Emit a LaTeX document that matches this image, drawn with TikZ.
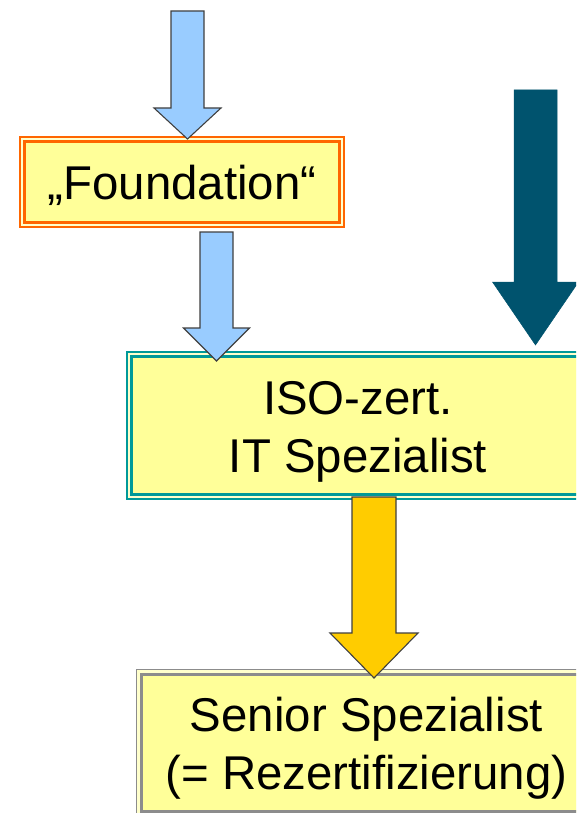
\documentclass[tikz,border=0pt]{standalone}
\usepackage{fontspec}
\setmainfont{Liberation Sans}
\usetikzlibrary{calc}
\definecolor{boxfill}{HTML}{FFFF99}
\definecolor{gapfill}{HTML}{FFFFCC}
\definecolor{orangeline}{HTML}{FF6600}
\definecolor{tealline}{HTML}{009999}
\definecolor{greyline}{HTML}{8C8C8C}
\definecolor{lightblue}{HTML}{99CCFF}
\definecolor{darkteal}{HTML}{00536E}
\definecolor{gold}{HTML}{FFCC00}
\definecolor{outline}{HTML}{404040}
\tikzset{
  boxbase/.style={rectangle, fill=boxfill, line width=3pt, outer sep=0pt, inner sep=0pt},
  outerbase/.style={rectangle, fill=gapfill, line width=1.8pt, outer sep=0pt, inner sep=0pt},
  txt/.style={font=\fontsize{47.4}{58}\selectfont, align=center, inner sep=0pt},
  lbarrow/.style={fill=lightblue, draw=outline, line width=1.1pt, line join=miter},
  darrow/.style={fill=darkteal, draw=darkteal, line width=0.5pt},
  garrow/.style={fill=gold, draw=outline, line width=1.1pt, line join=miter},
}
% #1 style, #2 start, #3 end (tip y), #4 shaft half width, #5 head half width, #6 head length
\newcommand\blockarrow[6]{%
  \path[#1] let \p1=(#2), \p2=(#3) in
    (\x1-#4pt,\y1) -- (\x1+#4pt,\y1) -- (\x1+#4pt,\y2+#6pt) -- (\x1+#5pt,\y2+#6pt)
    -- (\x1,\y2) -- (\x1-#5pt,\y2+#6pt) -- (\x1-#4pt,\y2+#6pt) -- cycle;}
\begin{document}
\begin{tikzpicture}[x=1pt,y=-1pt]
\useasboundingbox (0,0) rectangle (576,813);
\clip (0,0) rectangle (576,813);
\fill[white] (0,0) rectangle (576,813);

% boxes: outer thin line, then inner thick line
\node[outerbase, draw=orangeline, minimum width=324pt, minimum height=90pt] (foundouter) at (182,182) {};
\node[boxbase, draw=orangeline, minimum width=315pt, minimum height=81pt] (found) at (foundouter.center) {};
\node[outerbase, draw=tealline, minimum width=462pt, minimum height=147pt] (isoouter) at (358,425.5) {};
\node[boxbase, draw=tealline, minimum width=453pt, minimum height=138pt] (iso) at (isoouter.center) {};
\node[outerbase, draw=greyline, minimum width=460pt, minimum height=147pt] (seniorouter) at (366.5,743) {};
\node[boxbase, draw=greyline, minimum width=450pt, minimum height=137pt] (senior) at (seniorouter.center) {};

% texts
\node[txt] (foundtxt) at ([yshift=-3.25pt]found.center) {„Foundation“};
\node[txt] (isotxt) at ([yshift=-6pt]iso.center) {ISO-zert.\\IT Spezialist};
\node[txt] (seniortxt) at ([yshift=-5.5pt]senior.center) {Senior Spezialist\\(= Rezertifizierung)};

% arrows
\coordinate (a1s) at (187.5,11);
\coordinate (a2s) at (216.5,232);
\coordinate (a3s) at (535.5,90);
\coordinate (a4s) at (374,497);
\blockarrow{lbarrow}{a1s}{[yshift=2.5pt]found.north}{16.5}{33.5}{31}
\blockarrow{lbarrow}{a2s}{[yshift=-4.5pt]iso.north}{16.5}{33}{33}
\blockarrow{darrow}{a3s}{[yshift=11.5pt]iso.north}{21.5}{43}{63}
\blockarrow{garrow}{a4s}{[yshift=-3.5pt]senior.north}{22}{44}{45}
\end{tikzpicture}
\end{document}
